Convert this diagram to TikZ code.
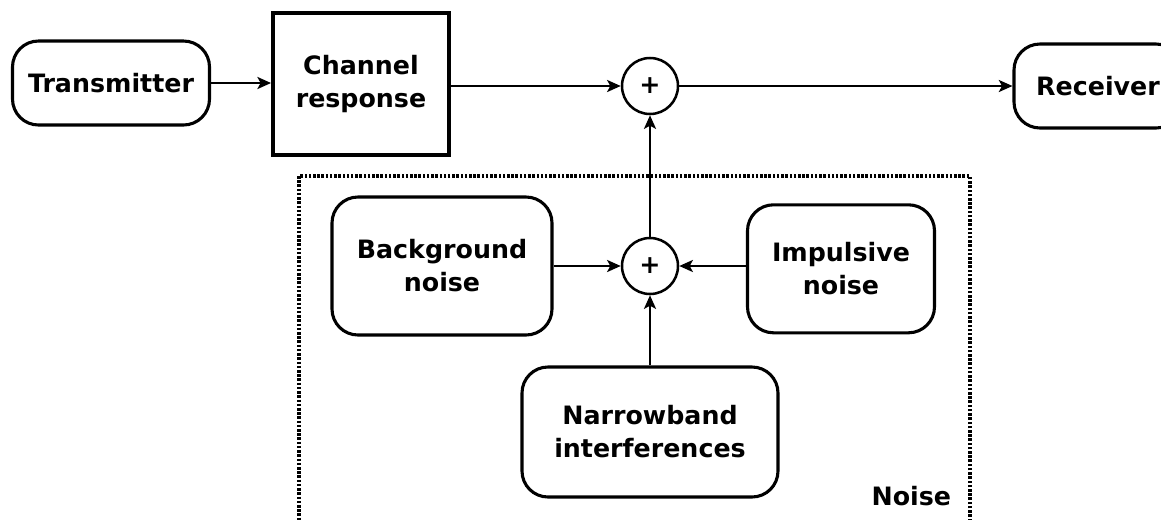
\documentclass[tikz,border=0pt]{standalone}
\usepackage{fontspec}
\setmainfont{DejaVu Sans}
\usepackage{tikz}
\usetikzlibrary{arrows.meta,positioning,calc}

\begin{document}
\begin{tikzpicture}[
  font=\bfseries\fontsize{18}{23.5}\selectfont,
  blk/.style={draw,line width=2.2pt,rounded corners=0.65cm,align=center},
  chan/.style={draw,line width=2.8pt,align=center},
  sum/.style={draw,circle,line width=1.8pt,minimum size=1.4cm,inner sep=0pt},
  arr/.style={-{Stealth[length=3.4mm,width=3mm,inset=0.8mm]},line width=1.8pt}]
  \useasboundingbox (0,0) rectangle (29.025,-12.975);
  % noise group
  \draw[line width=2.8pt,dash pattern=on 1.8pt off 1.2pt] (7.475,-4.4) rectangle (24.25,-13.4);
  \node[anchor=east] (lbl) at (23.9,-12.4) {Noise};
  % top chain
  \node[blk,minimum width=4.925cm,minimum height=2.1cm] (tx) at (2.775,-2.075) {Transmitter};
  \node[chan,minimum width=4.4cm,minimum height=3.55cm] (ch) at (9.025,-2.1) {Channel\\response};
  \node[sum] (s1) at (16.25,-2.15) {+};
  \node[blk,minimum width=4.2cm,minimum height=2.1cm] (rx) at (27.45,-2.15) {Receiver};
  % noise sources
  \node[sum] (s2) at (16.25,-6.65) {+};
  \node[blk,minimum width=5.5cm,minimum height=3.45cm] (bg) at (11.05,-6.65) {Background\\noise};
  \node[blk,minimum width=4.675cm,minimum height=3.2cm] (imp) at (21.025,-6.72) {Impulsive\\noise};
  \node[blk,minimum width=6.4cm,minimum height=3.25cm] (nb) at (16.25,-10.8) {Narrowband\\interferences};
  \draw[arr] (tx) -- (tx -| ch.west);
  \draw[arr] (ch.east |- s1) -- (s1);
  \draw[arr] (s1) -- (rx);
  \draw[arr] (s2) -- (s1);
  \draw[arr] (bg) -- (s2);
  \draw[arr] (imp.west |- s2) -- (s2);
  \draw[arr] (nb) -- (s2);
\end{tikzpicture}
\end{document}
